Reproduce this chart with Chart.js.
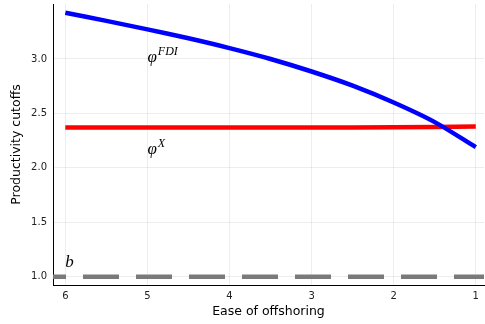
<!DOCTYPE html>
<html>
<head>
<meta charset="utf-8">
<script src="https://cdn.jsdelivr.net/npm/chart.js@4.4.1/dist/chart.umd.min.js"></script>
<style>
  html, body { margin: 0; padding: 0; background: #fff; }
  #wrap { width: 485px; height: 324px; position: relative; }
</style>
</head>
<body>
<div id="wrap"><canvas id="chart" width="485" height="324"></canvas></div>
<script>
// Ease of offshoring (x axis runs from 6 down to 1)
const easeX = [6, 5.5, 5, 4.5, 4, 3.5, 3, 2.5, 2, 1.5, 1];
const phiFDI = [3.425, 3.35, 3.272, 3.19, 3.10, 3.00, 2.885, 2.755, 2.60, 2.42, 2.19];
const phiX = [2.37, 2.37, 2.37, 2.37, 2.37, 2.37, 2.37, 2.371, 2.372, 2.375, 2.38];
const bX = [6.15, 0.9];
const bY = [1, 1];
const xTicks = [1, 2, 3, 4, 5, 6];
const yTicks = [1.0, 1.5, 2.0, 2.5, 3.0];

const FONT = "'DejaVu Sans', sans-serif";
const MATH = "'Liberation Serif', 'DejaVu Serif', serif";

function toPoints(xs, ys) {
    return xs.map((x, i) => ({ x: x, y: ys[i] }));
}

// math-style labels drawn next to the curves
const labelPlugin = {
    id: 'mathLabels',
    afterDatasetsDraw(chart) {
        const ctx = chart.ctx;
        const xs = chart.scales.x, ys = chart.scales.y;
        const items = [
            { base: 'φ', sup: 'FDI', x: 5, y: 2.975 },
            { base: 'φ', sup: 'X', x: 5, y: 2.125 },
            { base: 'b', sup: '', x: 6, y: 1.085 }
        ];
        ctx.save();
        ctx.fillStyle = '#000';
        ctx.textBaseline = 'alphabetic';
        items.forEach(it => {
            const px = xs.getPixelForValue(it.x);
            const py = ys.getPixelForValue(it.y);
            ctx.font = 'italic 17px ' + MATH;
            ctx.fillText(it.base, px, py);
            const w = ctx.measureText(it.base).width;
            if (it.sup) {
                ctx.font = 'italic 12px ' + MATH;
                ctx.fillText(it.sup, px + w + 1, py - 7);
            }
        });
        ctx.restore();
    }
};

new Chart(document.getElementById('chart').getContext('2d'), {
    type: 'line',
    data: {
        datasets: [
            {
                label: 'phiFDI',
                data: toPoints(easeX, phiFDI),
                borderColor: '#0000ff',
                borderWidth: 4.5,
                pointRadius: 0,
                tension: 0.3
            },
            {
                label: 'phiX',
                data: toPoints(easeX, phiX),
                borderColor: '#ff0000',
                borderWidth: 4.5,
                pointRadius: 0
            },
            {
                label: 'b',
                data: toPoints(bX, bY),
                borderColor: '#7a7a7a',
                borderWidth: 4.5,
                borderDash: [36, 17],
                borderDashOffset: 23,
                pointRadius: 0
            }
        ]
    },
    options: {
        responsive: false,
        animation: false,
        layout: { padding: { top: 4, right: 1, left: 0, bottom: 0 } },
        plugins: {
            legend: { display: false },
            tooltip: { enabled: false }
        },
        scales: {
            x: {
                type: 'linear',
                reverse: true,
                min: 0.9,
                max: 6.15,
                afterBuildTicks: s => { s.ticks = xTicks.map(v => ({ value: v })); },
                afterFit: s => {
                    s.height = 39;
                    s.paddingLeft = 0;
                    s.paddingRight = 0;
                },
                ticks: {
                    font: { family: FONT, size: 10 },
                    color: '#222',
                    padding: 5,
                    maxRotation: 0,
                    callback: v => String(v)
                },
                grid: { color: 'rgba(0,0,0,0.07)', lineWidth: 1, drawTicks: false },
                border: { display: true, color: '#000', width: 1 },
                title: {
                    display: true,
                    text: 'Ease of offshoring',
                    font: { family: FONT, size: 12.5 },
                    color: '#000',
                    padding: { top: 0, bottom: 5 }
                }
            },
            y: {
                type: 'linear',
                min: 0.924,
                max: 3.505,
                afterBuildTicks: s => { s.ticks = yTicks.map(v => ({ value: v })); },
                afterFit: s => {
                    s.width = 53;
                    s.paddingTop = 0;
                    s.paddingBottom = 0;
                },
                ticks: {
                    font: { family: FONT, size: 10 },
                    color: '#222',
                    padding: 6,
                    callback: v => v.toFixed(1)
                },
                grid: { color: 'rgba(0,0,0,0.07)', lineWidth: 1, drawTicks: false },
                border: { display: true, color: '#000', width: 1 },
                title: {
                    display: true,
                    text: 'Productivity cutoffs',
                    font: { family: FONT, size: 12.5 },
                    color: '#000',
                    padding: { top: 9, bottom: 0 }
                }
            }
        }
    },
    plugins: [labelPlugin]
});
</script>
</body>
</html>
